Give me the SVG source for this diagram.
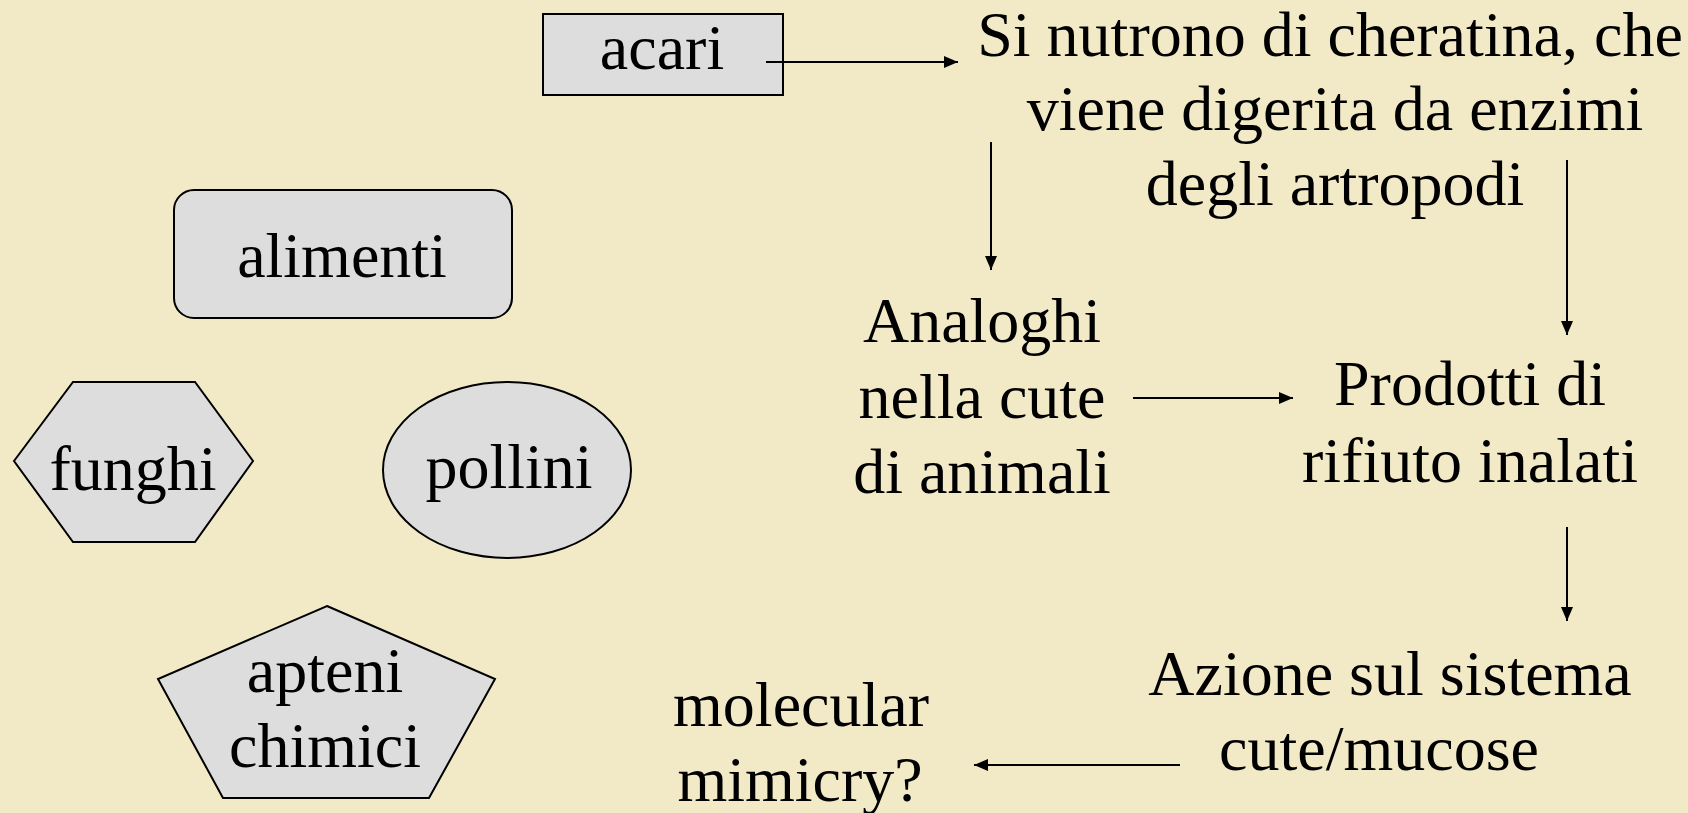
<svg xmlns="http://www.w3.org/2000/svg" width="1688" height="813" viewBox="0 0 1688 813">
<style>
  .bg { fill: #F2EAC7; }
  .shape { fill: #DDDDDD; stroke: #000000; stroke-width: 2; }
  .t { font-family: "Liberation Serif", "Times New Roman", serif; font-size: 64px; fill: #000000; text-anchor: middle; }
  .conn { stroke: #000000; stroke-width: 2; fill: none; marker-end: url(#arrow); }
</style>
<defs>
  <marker id="arrow" viewBox="0 0 14 12" refX="14" refY="6" markerWidth="14" markerHeight="12" markerUnits="userSpaceOnUse" orient="auto">
    <path d="M0,0 L14,6 L0,12 Z" fill="#000000"/>
  </marker>
</defs>
<rect class="bg" x="0" y="0" width="1688" height="813"/>

<g id="acari">
  <rect class="shape" x="543" y="14" width="240" height="81"/>
  <text class="t" x="662" y="69">acari</text>
</g>
<g id="alimenti">
  <rect class="shape" x="174" y="190" width="338" height="128" rx="20" ry="20"/>
  <text class="t" x="342" y="277">alimenti</text>
</g>
<g id="funghi">
  <polygon class="shape" points="14,461 73,382 195,382 253,461 195,542 73,542"/>
  <text class="t" x="133" y="490">funghi</text>
</g>
<g id="pollini">
  <ellipse class="shape" cx="507" cy="470" rx="124" ry="88"/>
  <text class="t" x="509" y="488">pollini</text>
</g>
<g id="apteni">
  <polygon class="shape" points="327,606 495,679 429,798 223,798 158,679"/>
  <text class="t" x="325" y="692">apteni</text>
  <text class="t" x="325" y="767">chimici</text>
</g>
<g id="cheratina">
  <text class="t" x="1330" y="56">Si nutrono di cheratina, che</text>
  <text class="t" x="1335" y="130">viene digerita da enzimi</text>
  <text class="t" x="1335" y="205">degli artropodi</text>
</g>
<g id="analoghi">
  <text class="t" x="982" y="342">Analoghi</text>
  <text class="t" x="982" y="418">nella cute</text>
  <text class="t" x="982" y="493">di animali</text>
</g>
<g id="prodotti">
  <text class="t" x="1470" y="405">Prodotti di</text>
  <text class="t" x="1470" y="482">rifiuto inalati</text>
</g>
<g id="azione">
  <text class="t" x="1390" y="695">Azione sul sistema</text>
  <text class="t" x="1379" y="770">cute/mucose</text>
</g>
<g id="mimicry">
  <text class="t" x="801" y="726">molecular</text>
  <text class="t" x="800" y="801">mimicry?</text>
</g>

<g id="connectors">
  <line class="conn" x1="766" y1="62" x2="958" y2="62"/>
  <line class="conn" x1="991" y1="142" x2="991" y2="270"/>
  <line class="conn" x1="1567" y1="160" x2="1567" y2="335"/>
  <line class="conn" x1="1133" y1="398" x2="1293" y2="398"/>
  <line class="conn" x1="1567" y1="527" x2="1567" y2="621"/>
  <line class="conn" x1="1180" y1="765" x2="974" y2="765"/>
</g>
</svg>
